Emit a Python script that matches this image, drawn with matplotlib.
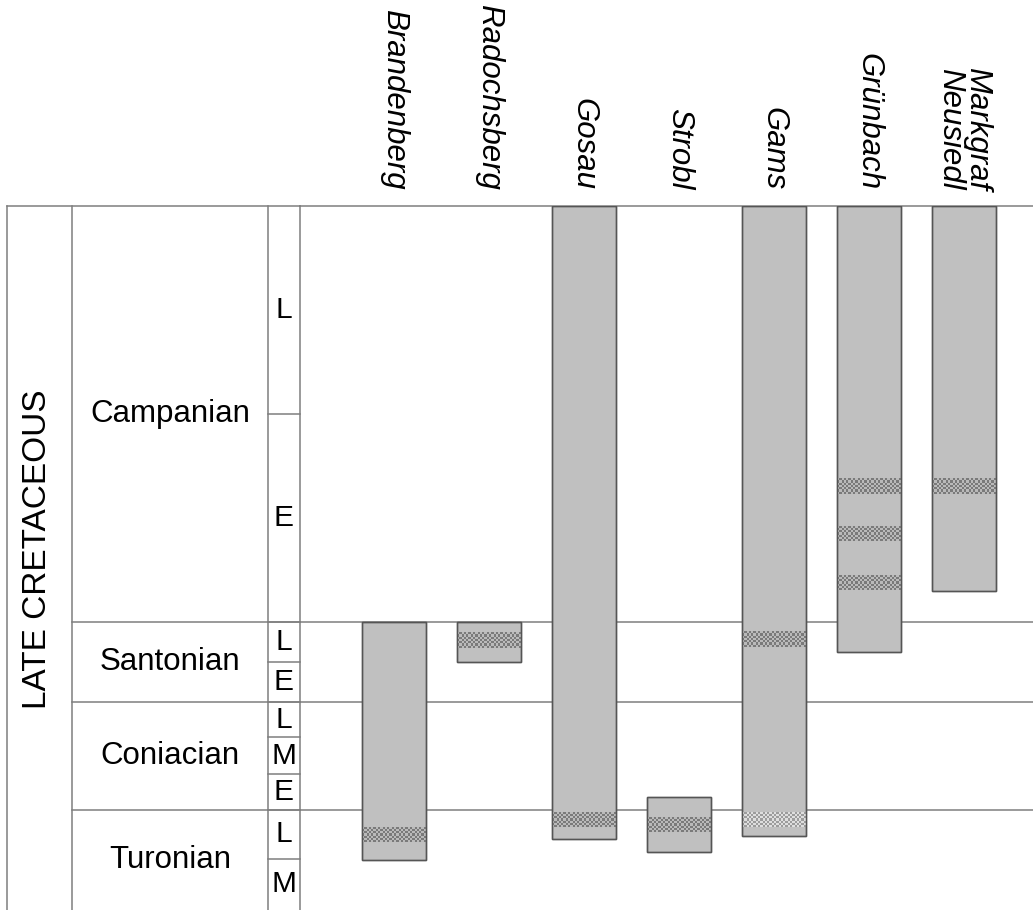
import matplotlib
matplotlib.use("Agg")
import matplotlib.pyplot as plt
import numpy as np
from matplotlib.colors import ListedColormap

plt.rcParams["font.family"] = ["Liberation Sans", "DejaVu Sans"]

# localities (columns) and their stratigraphic range (level units, 0 = top of chart)
sites = ["Brandenberg", "Radochsberg", "Gosau", "Strobl", "Gams", "Grünbach", "Markgraf\nNeusiedl"]
bar_top = [416, 416, 0, 591, 0, 0, 0]
bar_base = [654, 456, 633, 646, 630, 446, 385]

# hatched horizons: column index, top, base
hatch_site = [0, 1, 2, 3, 4, 4, 5, 5, 5, 6]
hatch_top = [621, 426, 606, 611, 425, 606, 272, 320, 369, 272]
hatch_base = [636, 442, 621, 626, 441, 621, 288, 335, 384, 288]

# time scale
stages = ["Campanian", "Santonian", "Coniacian", "Turonian"]
stage_bounds = [0, 416, 496, 604, 704]
substages = ["L", "E", "L", "E", "L", "M", "E", "L", "M"]
substage_bounds = [0, 208, 416, 456, 496, 531, 568, 604, 653, 704]

W, H = 1033, 910
fig = plt.figure(figsize=(W / 100, H / 100), dpi=100)
top_px = 206

line_c = "#7f7f7f"
lw = 1.1

# left part: time scale columns
axl = fig.add_axes([0, 0, 300 / W, (H - top_px) / H])
axl.set_xlim(0, 300)
axl.set_ylim(704, 0)
axl.axis("off")
for x in [7, 72, 268, 300]:
    axl.plot([x, x], [0, 704], color=line_c, lw=lw, clip_on=False)
axl.plot([7, 300], [0, 0], color=line_c, lw=lw, clip_on=False)
for b in stage_bounds[1:-1]:
    axl.plot([72, 300], [b, b], color=line_c, lw=lw, clip_on=False)
for b in substage_bounds[1:-1]:
    axl.plot([268, 300], [b, b], color=line_c, lw=lw, clip_on=False)

axl.text(38, 343, "LATE CRETACEOUS", rotation=90, ha="center", va="center", fontsize=24)
for i, s in enumerate(stages):
    axl.text(170, (stage_bounds[i] + stage_bounds[i + 1]) / 2, s,
             ha="center", va="center", fontsize=22.5)
for i, s in enumerate(substages):
    axl.text(284, (substage_bounds[i] + substage_bounds[i + 1]) / 2, s,
             ha="center", va="center", fontsize=21.5)

# right part: locality bars
ax = fig.add_axes([300 / W, 0, (W - 300) / W, (H - top_px) / H])
for b in [0] + stage_bounds[1:-1]:
    ax.axhline(b, color=line_c, lw=lw, zorder=1, clip_on=False)

bw = 0.674
xs = list(range(len(sites)))
heights = [b - t for t, b in zip(bar_top, bar_base)]
ax.bar(xs, heights, bottom=bar_top, width=bw, color="#c0c0c0",
       edgecolor="#555555", linewidth=1.0, zorder=2)

# checkered horizons
checker = np.indices((7, 28)).sum(axis=0) % 2
for k, i in enumerate(hatch_site):
    # the lower Gams horizon is printed in a lighter pattern
    if i == 4 and hatch_top[k] > 500:
        cmap = ListedColormap(["#dedede", "#9c9c9c"])
    else:
        cmap = ListedColormap(["#bababa", "#7a7a7a"])
    ax.imshow(checker, cmap=cmap, extent=(i - bw / 2, i + bw / 2, hatch_base[k], hatch_top[k]),
              aspect="auto", interpolation="nearest", zorder=3)

# redraw bar outlines on top of the pattern
ax.bar(xs, heights, bottom=bar_top, width=bw, fill=False,
       edgecolor="#555555", linewidth=1.0, zorder=4)

for i, s in enumerate(sites):
    ax.text(i, -16, s, rotation=-90, rotation_mode="anchor", ha="right", va="center",
            fontsize=22.5, style="italic", linespacing=0.85, clip_on=False)

ax.set_xlim(-0.99, 6.73)
ax.set_ylim(704, 0)
ax.axis("off")

fig.savefig("out.png", dpi=100)
